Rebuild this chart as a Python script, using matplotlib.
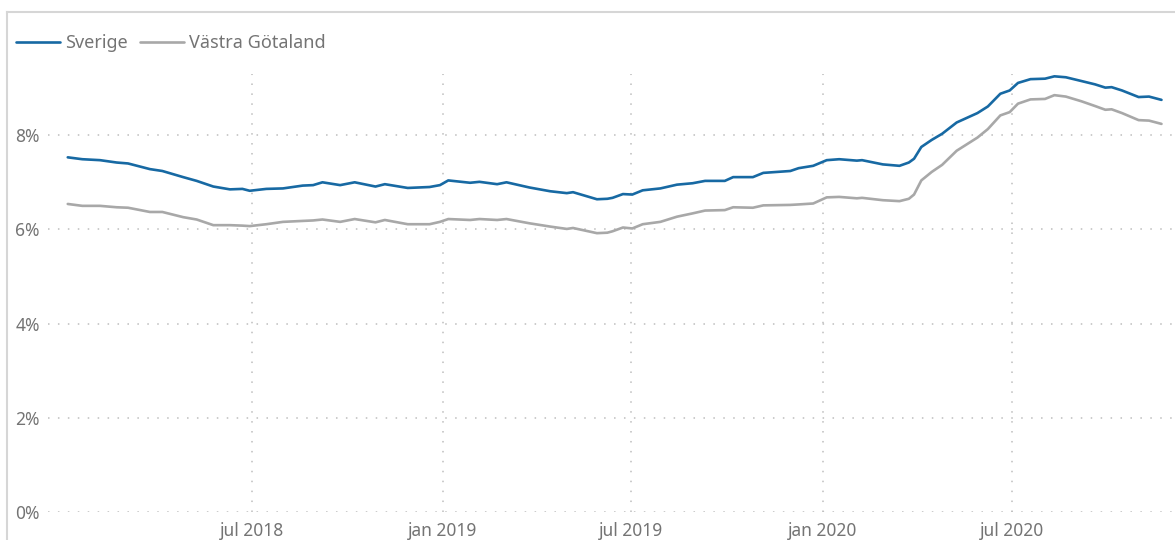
import numpy as np
import pandas as pd
from matplotlib import pyplot as plt
from matplotlib.lines import Line2D
from matplotlib.ticker import FuncFormatter

# veckovisa avläsningar (ungefärliga) från bilden
dates = [
    "2018-01-05", "2018-01-19", "2018-02-05", "2018-02-21", "2018-03-04", "2018-03-25",
    "2018-04-06", "2018-04-26", "2018-05-09", "2018-05-25", "2018-06-10", "2018-06-22",
    "2018-06-29", "2018-07-15", "2018-07-31", "2018-08-19", "2018-08-29", "2018-09-07",
    "2018-09-24", "2018-10-08", "2018-10-28", "2018-11-06", "2018-11-28", "2018-12-19",
    "2018-12-29", "2019-01-06", "2019-01-27", "2019-02-05", "2019-02-22", "2019-03-03",
    "2019-03-25", "2019-04-14", "2019-04-30", "2019-05-06", "2019-05-29", "2019-06-08",
    "2019-06-13", "2019-06-23", "2019-07-02", "2019-07-12", "2019-07-29", "2019-08-14",
    "2019-08-29", "2019-09-10", "2019-09-29", "2019-10-07", "2019-10-26", "2019-11-05",
    "2019-12-01", "2019-12-09", "2019-12-23", "2020-01-05", "2020-01-17", "2020-02-03",
    "2020-02-08", "2020-02-28", "2020-03-15", "2020-03-24", "2020-03-29", "2020-04-05",
    "2020-04-15", "2020-04-25", "2020-05-09", "2020-05-29", "2020-06-08", "2020-06-20",
    "2020-06-29", "2020-07-07", "2020-07-19", "2020-08-02", "2020-08-11", "2020-08-22",
    "2020-09-06", "2020-09-19", "2020-09-29", "2020-10-05", "2020-10-15", "2020-10-31",
    "2020-11-10", "2020-11-22",
]

sverige = [
    7.53, 7.49, 7.47, 7.42, 7.40, 7.28,
    7.24, 7.11, 7.03, 6.91, 6.85, 6.86,
    6.82, 6.86, 6.87, 6.93, 6.94, 7.00,
    6.94, 7.00, 6.91, 6.96, 6.88, 6.90,
    6.94, 7.04, 6.99, 7.01, 6.96, 7.00,
    6.89, 6.81, 6.77, 6.79, 6.64, 6.65,
    6.67, 6.75, 6.74, 6.83, 6.87, 6.95,
    6.98, 7.03, 7.03, 7.11, 7.11, 7.20,
    7.24, 7.30, 7.35, 7.47, 7.49, 7.46,
    7.47, 7.38, 7.35, 7.42, 7.50, 7.75,
    7.90, 8.03, 8.27, 8.47, 8.61, 8.88,
    8.95, 9.11, 9.19, 9.20, 9.25, 9.23,
    9.15, 9.08, 9.01, 9.02, 8.95, 8.81,
    8.82, 8.75,
]

vastra_gotaland = [
    6.54, 6.50, 6.50, 6.47, 6.46, 6.37,
    6.37, 6.26, 6.21, 6.09, 6.09, 6.08,
    6.07, 6.11, 6.16, 6.18, 6.19, 6.21,
    6.16, 6.22, 6.15, 6.20, 6.11, 6.11,
    6.16, 6.22, 6.20, 6.22, 6.20, 6.22,
    6.13, 6.06, 6.01, 6.03, 5.92, 5.93,
    5.96, 6.04, 6.02, 6.11, 6.16, 6.27,
    6.34, 6.40, 6.41, 6.47, 6.46, 6.51,
    6.52, 6.53, 6.55, 6.68, 6.69, 6.66,
    6.67, 6.62, 6.60, 6.65, 6.74, 7.04,
    7.22, 7.37, 7.67, 7.95, 8.13, 8.42,
    8.49, 8.67, 8.76, 8.77, 8.85, 8.82,
    8.72, 8.62, 8.54, 8.55, 8.47, 8.32,
    8.31, 8.24,
]

tick_dates = ["2018-07-01", "2019-01-01", "2019-07-01", "2020-01-01", "2020-07-01"]
tick_labels = ["jul 2018", "jan 2019", "jul 2019", "jan 2020", "jul 2020"]
y_ticks = [0, 2, 4, 6, 8]

blue = "#1769a3"
gray = "#a8a8a8"
text_color = "#747474"
grid_color = "#bdbdbd"

plt.rcParams['font.family'] = ['Noto Sans', 'DejaVu Sans']

x = pd.to_datetime(dates)

fig = plt.figure(figsize=(11.75, 5.4), dpi=100)
# plotytan: 0 % vid y=512 px, toppen vid y=74 px
ax = fig.add_axes([48 / 1175, 28 / 540, 1 - 48 / 1175, (512 - 74) / 540])

ax.plot(x, sverige, color=blue, lw=1.9, label="Sverige", solid_capstyle='round')
ax.plot(x, vastra_gotaland, color=gray, lw=1.9, label="Västra Götaland", solid_capstyle='round')

ax.set_xlim(pd.Timestamp("2017-12-17"), pd.Timestamp("2020-12-05"))
ax.set_ylim(0, (512 - 74) / 47.1)

ax.set_xticks(pd.to_datetime(tick_dates))
ax.set_xticklabels(tick_labels)
ax.set_yticks(y_ticks)
ax.yaxis.set_major_formatter(FuncFormatter(lambda v, p: f"{v:.0f}%"))

ax.grid(True, color=grid_color, linestyle=(0, (1, 5.5)), lw=1.1)
ax.set_axisbelow(True)
for s in ax.spines.values():
    s.set_visible(False)
ax.tick_params(length=0, colors=text_color, labelsize=12.5)
ax.tick_params(axis='y', pad=6)
ax.tick_params(axis='x', pad=7)

fig.legend(loc='center left', bbox_to_anchor=(9 / 1175, 1 - 43 / 540), ncol=2, frameon=False,
           handlelength=2.4, handletextpad=0.3, columnspacing=0.7, fontsize=13,
           labelcolor=text_color, borderaxespad=0)

# ram runt visualen
fig.add_artist(Line2D([7 / 1175, 7 / 1175], [0, 1 - 12 / 540], color="#d6d6d6", lw=1.5,
                      transform=fig.transFigure))
fig.add_artist(Line2D([7 / 1175, 1], [1 - 12 / 540, 1 - 12 / 540], color="#d6d6d6", lw=1.5,
                      transform=fig.transFigure))

fig.savefig("out.png", dpi=100)
